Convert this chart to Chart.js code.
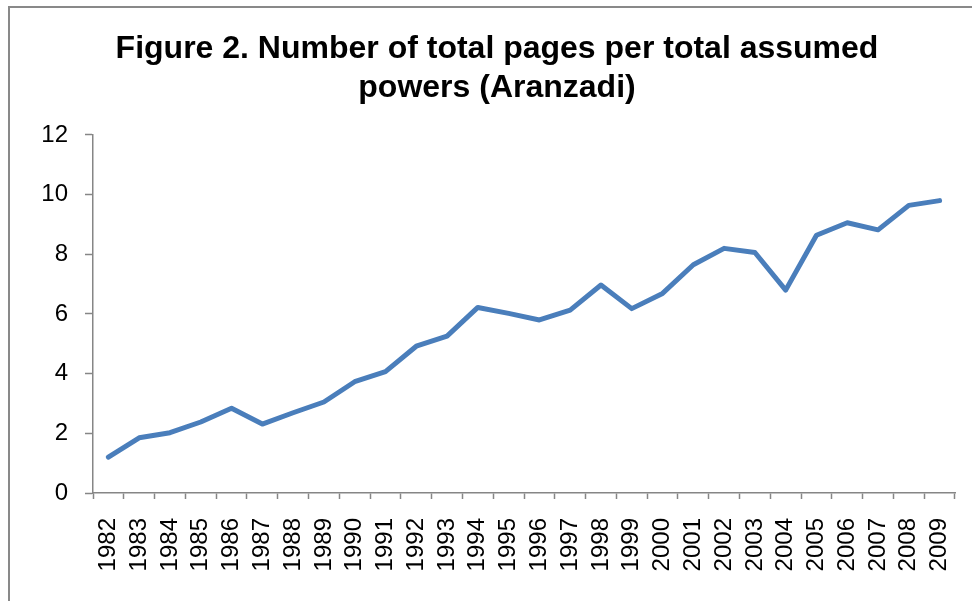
<!DOCTYPE html>
<html>
<head>
<meta charset="utf-8">
<script src="https://cdn.jsdelivr.net/npm/chart.js@4"></script>
<style>
  html, body { margin: 0; padding: 0; background: #fff; overflow: hidden; }
  #wrap { position: relative; width: 972px; height: 601px; }
  #frame {
    position: absolute; left: 8px; top: 6px; width: 1000px; height: 700px;
    border-top: 2px solid #898989; border-left: 2px solid #898989;
    pointer-events: none;
  }
</style>
</head>
<body>
<div id="wrap">
  <canvas id="myChart" width="972" height="601"></canvas>
  <div id="frame"></div>
</div>
<script>
const anos = ['1982', '1983', '1984', '1985', '1986', '1987', '1988', '1989', '1990', '1991',
  '1992', '1993', '1994', '1995', '1996', '1997', '1998', '1999', '2000', '2001',
  '2002', '2003', '2004', '2005', '2006', '2007', '2008', '2009']
const paginas = [1.20, 1.85, 2.02, 2.38, 2.84, 2.31, 2.69, 3.05, 3.73, 4.07,
  4.92, 5.26, 6.22, 6.02, 5.80, 6.13, 6.97, 6.18, 6.69, 7.65,
  8.20, 8.06, 6.80, 8.64, 9.06, 8.82, 9.64, 9.80]
const titulo = ['Figure 2. Number of total pages per total assumed', 'powers (Aranzadi)']
const yMin = 0
const yMax = 12
const yPasso = 2

const fonte = '"Liberation Sans", Arial, sans-serif'
const cinza = '#868686'

Chart.defaults.font.family = fonte
Chart.defaults.color = '#000'

const ctx = document.getElementById('myChart')

// padding esquerdo maior para o titulo ficar centrado como no original
let grafico = new Chart(ctx, {
  type: 'line',
  data: {
    labels: anos,
    datasets: [{
      label: 'Pages',
      data: paginas,
      borderColor: '#4a7ebb',
      backgroundColor: '#4a7ebb',
      borderWidth: 5,
      pointRadius: 0,
      tension: 0,
      borderCapStyle: 'round',
      borderJoinStyle: 'round'
    }]
  },
  options: {
    responsive: false,
    animation: false,
    layout: { padding: { left: 39, right: 17, top: 0, bottom: 0 } },
    plugins: {
      legend: { display: false },
      tooltip: { enabled: false },
      title: {
        display: true,
        text: titulo,
        color: '#000',
        font: { size: 32, weight: 'bold', family: fonte, lineHeight: 1.22 },
        padding: { top: 29.5, bottom: 27.4 }
      }
    },
    scales: {
      x: {
        type: 'category',
        offset: true,
        afterFit: (scale) => {
          scale.height = 108
          // sem isto os rotulos rodados empurram a area do grafico para a esquerda
          scale.paddingLeft = 0
          scale.paddingRight = 0
        },
        grid: {
          offset: true,
          drawOnChartArea: false,
          drawTicks: true,
          tickLength: 6,
          tickWidth: 1.5,
          tickColor: cinza
        },
        border: { display: true, color: cinza, width: 1.5 },
        ticks: {
          autoSkip: false,
          minRotation: 90,
          maxRotation: 90,
          padding: 19,
          color: '#000',
          font: { size: 24, family: fonte }
        }
      },
      y: {
        min: yMin,
        max: yMax,
        afterFit: (scale) => { scale.width = 54 },
        grid: {
          drawOnChartArea: false,
          drawTicks: true,
          tickLength: 8,
          tickWidth: 1.5,
          tickColor: cinza
        },
        border: { display: true, color: cinza, width: 1.5 },
        ticks: {
          stepSize: yPasso,
          padding: 17,
          color: '#000',
          font: { size: 24, family: fonte }
        }
      }
    }
  }
})
</script>
</body>
</html>
